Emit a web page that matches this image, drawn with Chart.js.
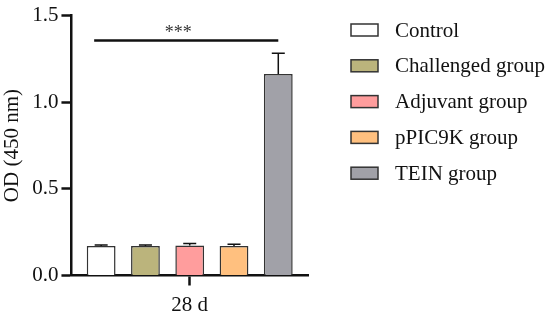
<!DOCTYPE html>
<html>
<head>
<meta charset="utf-8">
<script src="https://cdn.jsdelivr.net/npm/chart.js@4.4.1/dist/chart.umd.min.js"></script>
<style>
    html, body { margin: 0; padding: 0; background: #ffffff; }
    #wrap { width: 550px; height: 314px; position: relative; }
</style>
</head>
<body>
<div id="wrap"><canvas id="odChart"></canvas></div>
<script>
// Chart data
const categories = ['28 d'];
const groupNames = ['Control', 'Challenged group', 'Adjuvant group', 'pPIC9K group', 'TEIN group'];
const odMeans = [0.170, 0.170, 0.173, 0.170, 1.163];
const odErrors = [0.006, 0.006, 0.012, 0.010, 0.120];
const groupColors = ['#ffffff', '#bbb47c', '#ff9d9d', '#ffc07f', '#a1a1a8'];
const yTicks = [0, 0.5, 1.0, 1.5];
const sigLabel = '***';
const sigLevel = 1.357;

const serif = "'Liberation Serif', 'Times New Roman', serif";
const ink = '#111111';

// Error bars (upper only) drawn on top of each bar
const errorBarPlugin = {
    id: 'errorBars',
    afterDatasetsDraw(chart) {
        const ctx = chart.ctx;
        const yScale = chart.scales.y;
        ctx.save();
        ctx.strokeStyle = ink;
        ctx.lineWidth = 1.5;
        chart.data.datasets.forEach(function (ds, i) {
            const meta = chart.getDatasetMeta(i);
            meta.data.forEach(function (bar) {
                const top = yScale.getPixelForValue(odMeans[i] + odErrors[i]);
                const half = 6.5;
                ctx.beginPath();
                ctx.moveTo(bar.x, bar.y);
                ctx.lineTo(bar.x, top);
                ctx.moveTo(bar.x - half, top);
                ctx.lineTo(bar.x + half, top);
                ctx.stroke();
            });
        });
        ctx.restore();
    }
};

// Significance bracket across the groups
const significancePlugin = {
    id: 'significance',
    afterDatasetsDraw(chart) {
        const ctx = chart.ctx;
        const first = chart.getDatasetMeta(0).data[0];
        const last = chart.getDatasetMeta(groupNames.length - 1).data[0];
        const y = chart.scales.y.getPixelForValue(sigLevel);
        const x1 = first.x - 7;
        const x2 = last.x;
        ctx.save();
        ctx.strokeStyle = '#111';
        ctx.lineWidth = 2.5;
        ctx.beginPath();
        ctx.moveTo(x1, y);
        ctx.lineTo(x2, y);
        ctx.stroke();
        ctx.fillStyle = '#333';
        ctx.font = '18px ' + serif;
        ctx.textAlign = 'center';
        ctx.textBaseline = 'alphabetic';
        ctx.fillText(sigLabel, (x1 + x2) / 2 - 8, y - 2);
        ctx.restore();
    }
};

// Legend laid out like the figure (box, gap, label)
const sideLegendPlugin = {
    id: 'sideLegend',
    afterDraw(chart) {
        const ctx = chart.ctx;
        const boxX = 351, boxW = 27, boxH = 12;
        const textX = 395;
        const startY = 30, step = 35.8;
        ctx.save();
        ctx.font = '21px ' + serif;
        ctx.textBaseline = 'middle';
        ctx.textAlign = 'left';
        chart.data.datasets.forEach(function (ds, i) {
            const cy = startY + i * step;
            ctx.fillStyle = ds.backgroundColor;
            ctx.fillRect(boxX, cy - boxH / 2, boxW, boxH);
            ctx.strokeStyle = '#333';
            ctx.lineWidth = 1.5;
            ctx.strokeRect(boxX, cy - boxH / 2, boxW, boxH);
            ctx.fillStyle = ink;
            ctx.fillText(ds.label, textX, cy + 1);
        });
        ctx.restore();
    }
};

const datasets = groupNames.map(function (name, i) {
    return {
        label: name,
        data: [odMeans[i]],
        backgroundColor: groupColors[i],
        borderColor: '#333333',
        borderWidth: 1.5,
        borderSkipped: 'bottom',
        categoryPercentage: 0.936,
        barPercentage: 0.65
    };
});

new Chart(document.getElementById('odChart'), {
    type: 'bar',
    data: { labels: categories, datasets: datasets },
    options: {
        responsive: true,
        maintainAspectRatio: false,
        animation: false,
        layout: { padding: { left: 0, right: 242, top: 0, bottom: -10.5 } },
        plugins: {
            legend: { display: false },
            tooltip: { enabled: false }
        },
        scales: {
            x: {
                border: { display: true, color: '#111', width: 2.5 },
                grid: {
                    display: true,
                    drawOnChartArea: false,
                    offset: false,
                    tickLength: 10,
                    tickWidth: 2.5,
                    tickColor: '#111'
                },
                ticks: { color: ink, padding: 9, font: { family: serif, size: 21, lineHeight: 1 } }
            },
            y: {
                min: 0,
                max: 1.5,
                afterBuildTicks(scale) {
                    scale.ticks = yTicks.map(v => ({ value: v }));
                },
                border: { display: true, color: '#111', width: 2.5 },
                grid: {
                    display: true,
                    drawOnChartArea: false,
                    tickLength: 10,
                    tickWidth: 2.5,
                    tickColor: '#111'
                },
                ticks: {
                    color: ink,
                    padding: 3,
                    font: { family: serif, size: 21 },
                    callback: function (value) { return Number(value).toFixed(1); }
                },
                title: {
                    display: true,
                    text: 'OD (450 nm)',
                    color: ink,
                    font: { family: serif, size: 21 },
                    padding: { top: 0, bottom: 4 }
                }
            }
        }
    },
    plugins: [errorBarPlugin, significancePlugin, sideLegendPlugin]
});
</script>
</body>
</html>
